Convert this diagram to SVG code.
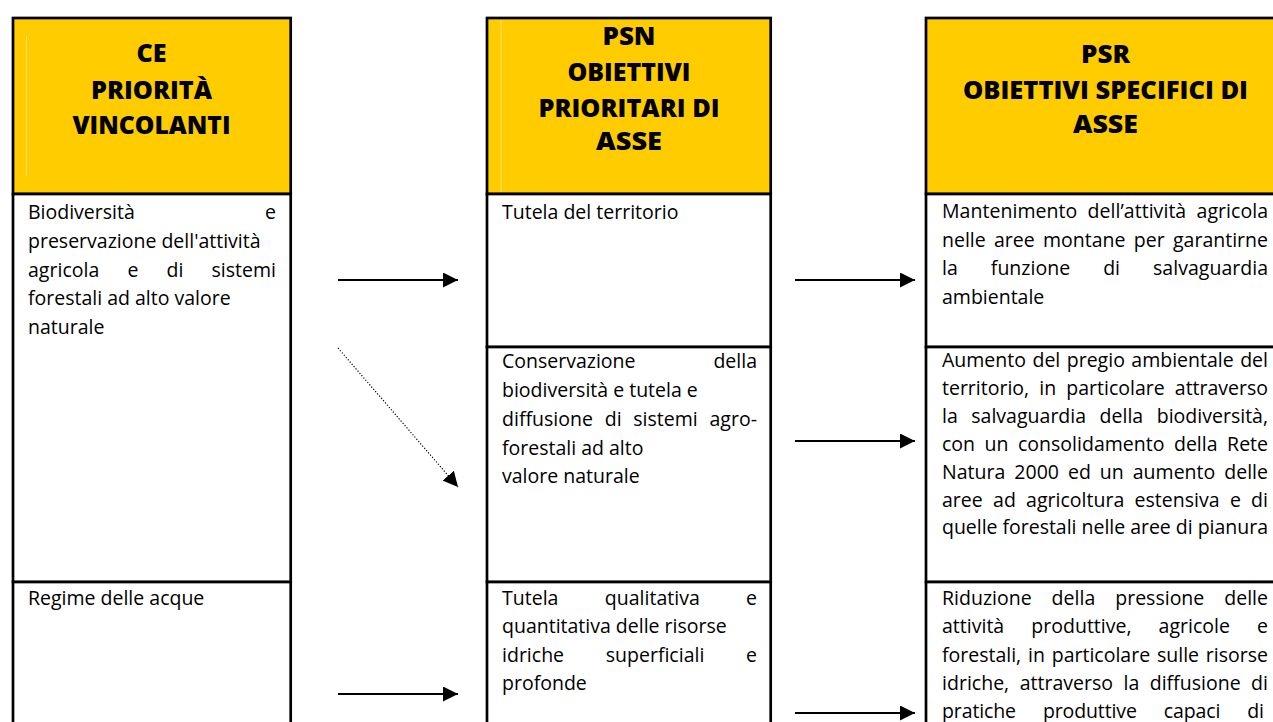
<svg xmlns="http://www.w3.org/2000/svg" width="1273" height="722" viewBox="0 0 1273 722">
<style>
.bg{fill:#fff}
.cell{fill:#fff;stroke:#000;stroke-width:2.7}
.hdr{fill:#FFCC00;stroke:#000;stroke-width:2.7}
.faint{stroke:#FFE27A;stroke-width:1;fill:none}
.t{font-family:"Open Sans","Noto Sans","Liberation Sans",sans-serif;font-size:19.5px;fill:#000}
.h{font-family:"Open Sans","Noto Sans","Liberation Sans",sans-serif;font-size:24px;font-weight:800;fill:#000;text-anchor:middle}
.e{text-anchor:end}
.arr{stroke:#000;stroke-width:2;fill:none}
.dot{stroke:#000;stroke-width:1.2;stroke-dasharray:1.2 1.8;fill:none}
</style>
<defs>
<marker id="ah" markerUnits="userSpaceOnUse" markerWidth="16" markerHeight="15" refX="15" refY="7.5" orient="auto"><path d="M0,0 L15,7.5 L0,15 z" fill="#000"/></marker>
</defs>
<rect class="bg" x="0" y="0" width="1273" height="722"/>

<g id="ce-header">
<rect class="hdr" x="13" y="18" width="277.7" height="176"/>
<line class="faint" x1="26.5" y1="36" x2="26.5" y2="176"/>
<text class="h" x="151.5" y="62" textLength="30" lengthAdjust="spacingAndGlyphs">CE</text>
<text class="h" x="151.5" y="99" textLength="121" lengthAdjust="spacingAndGlyphs">PRIORITÀ</text>
<text class="h" x="151.5" y="134" textLength="158" lengthAdjust="spacingAndGlyphs">VINCOLANTI</text>
</g>
<g id="ce-biodiversita">
<rect class="cell" x="13" y="194" width="277.7" height="388"/>
<text class="t" x="28" y="219">Biodiversità</text>
<text class="t e" x="276" y="219">e</text>
<text class="t" x="28" y="248">preservazione dell'attività</text>
<text class="t" x="28" y="277" word-spacing="23" textLength="248" lengthAdjust="spacing">agricola e di sistemi</text>
<text class="t" x="28" y="305">forestali ad alto valore</text>
<text class="t" x="28" y="334">naturale</text>
</g>
<g id="ce-acque">
<rect class="cell" x="13" y="582" width="277.7" height="160"/>
<text class="t" x="28" y="605">Regime delle acque</text>
</g>

<g id="psn-header">
<rect class="hdr" x="487" y="18" width="283.7" height="176"/>
<line class="faint" x1="501" y1="20" x2="501" y2="192"/>
<text class="h" x="629" y="45" textLength="53" lengthAdjust="spacingAndGlyphs">PSN</text>
<text class="h" x="629" y="81" textLength="123" lengthAdjust="spacingAndGlyphs">OBIETTIVI</text>
<text class="h" x="629" y="117" textLength="181" lengthAdjust="spacingAndGlyphs">PRIORITARI DI</text>
<text class="h" x="629" y="150" textLength="66" lengthAdjust="spacingAndGlyphs">ASSE</text>
</g>
<g id="psn-territorio">
<rect class="cell" x="487" y="194" width="283.7" height="153"/>
<text class="t" x="502" y="219">Tutela del territorio</text>
</g>
<g id="psn-biodiversita">
<rect class="cell" x="487" y="347" width="283.7" height="235"/>
<text class="t" x="502" y="368">Conservazione</text>
<text class="t e" x="757" y="368">della</text>
<text class="t" x="502" y="397">biodiversità e tutela e</text>
<text class="t" x="502" y="426" word-spacing="6.6" textLength="255" lengthAdjust="spacing">diffusione di sistemi agro-</text>
<text class="t" x="502" y="455">forestali ad alto</text>
<text class="t" x="502" y="483">valore naturale</text>
</g>
<g id="psn-acque">
<rect class="cell" x="487" y="582" width="283.7" height="160"/>
<text class="t" x="502" y="605" word-spacing="41.2" textLength="255" lengthAdjust="spacing">Tutela qualitativa e</text>
<text class="t" x="502" y="633">quantitativa delle risorse</text>
<text class="t" x="502" y="662" word-spacing="36.6" textLength="255" lengthAdjust="spacing">idriche superficiali e</text>
<text class="t" x="502" y="690">profonde</text>
</g>

<g id="psr-header">
<rect class="hdr" x="926" y="18" width="360" height="176"/>
<text class="h" x="1105.5" y="63" textLength="49" lengthAdjust="spacingAndGlyphs">PSR</text>
<text class="h" x="1105.5" y="99" textLength="285" lengthAdjust="spacingAndGlyphs">OBIETTIVI SPECIFICI DI</text>
<text class="h" x="1105.5" y="133" textLength="65" lengthAdjust="spacingAndGlyphs">ASSE</text>
</g>
<g id="psr-montane">
<rect class="cell" x="926" y="194" width="360" height="153"/>
<text class="t" x="942" y="218" word-spacing="5.2" textLength="326" lengthAdjust="spacing">Mantenimento dell’attività agricola</text>
<text class="t" x="942" y="247" word-spacing="3.2" textLength="326" lengthAdjust="spacing">nelle aree montane per garantirne</text>
<text class="t" x="942" y="275" word-spacing="27.9" textLength="326" lengthAdjust="spacing">la funzione di salvaguardia</text>
<text class="t" x="942" y="304">ambientale</text>
</g>
<g id="psr-pregio">
<rect class="cell" x="926" y="347" width="360" height="235"/>
<text class="t" x="942" y="367" word-spacing="1.4" textLength="326" lengthAdjust="spacing">Aumento del pregio ambientale del</text>
<text class="t" x="942" y="395" word-spacing="5.1" textLength="326" lengthAdjust="spacing">territorio, in particolare attraverso</text>
<text class="t" x="942" y="423" word-spacing="8.4" textLength="326" lengthAdjust="spacing">la salvaguardia della biodiversità,</text>
<text class="t" x="942" y="451" word-spacing="4.4" textLength="326" lengthAdjust="spacing">con un consolidamento della Rete</text>
<text class="t" x="942" y="479" word-spacing="3.9" textLength="326" lengthAdjust="spacing">Natura 2000 ed un aumento delle</text>
<text class="t" x="942" y="507" word-spacing="5.2" textLength="326" lengthAdjust="spacing">aree ad agricoltura estensiva e di</text>
<text class="t" x="942" y="534" textLength="326" lengthAdjust="spacing">quelle forestali nelle aree di pianura</text>
</g>
<g id="psr-pressione">
<rect class="cell" x="926" y="582" width="360" height="160"/>
<text class="t" x="942" y="605" word-spacing="14.9" textLength="326" lengthAdjust="spacing">Riduzione della pressione delle</text>
<text class="t" x="942" y="633" word-spacing="22" textLength="326" lengthAdjust="spacing">attività produttive, agricole e</text>
<text class="t" x="942" y="662" word-spacing="1.8" textLength="326" lengthAdjust="spacing">forestali, in particolare sulle risorse</text>
<text class="t" x="942" y="690" word-spacing="5.4" textLength="326" lengthAdjust="spacing">idriche, attraverso la diffusione di</text>
<text class="t" x="942" y="718" word-spacing="22" textLength="322" lengthAdjust="spacing">pratiche produttive capaci di</text>
</g>

<g id="connectors">
<line class="arr" x1="338" y1="280" x2="458" y2="280" marker-end="url(#ah)"/>
<line class="dot" x1="338" y1="348" x2="458" y2="487" marker-end="url(#ah)"/>
<line class="arr" x1="338" y1="694" x2="458" y2="694" marker-end="url(#ah)"/>
<line class="arr" x1="795" y1="280" x2="915" y2="280" marker-end="url(#ah)"/>
<line class="arr" x1="795" y1="441" x2="915" y2="441" marker-end="url(#ah)"/>
<line class="arr" x1="795" y1="713" x2="915" y2="713" marker-end="url(#ah)"/>
</g>
</svg>
